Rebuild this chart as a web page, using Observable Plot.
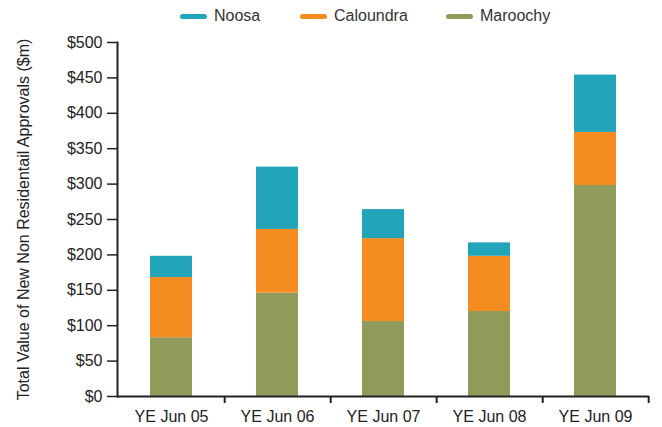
<!DOCTYPE html>
<html>
<head>
<meta charset="utf-8">
<script src="https://cdn.jsdelivr.net/npm/d3@7"></script>
<script src="https://cdn.jsdelivr.net/npm/@observablehq/plot@0.6"></script>
<style>
  html, body { margin: 0; padding: 0; background: #fff; }
  body { width: 662px; height: 427px; overflow: hidden; font-family: "Liberation Sans", Arial, sans-serif; }
  #legend { position: relative; height: 34px; }
  .item { position: absolute; top: 7px; display: flex; align-items: center; font-size: 16px; color: #333; }
  .sw { display: inline-block; width: 27px; height: 5px; border-radius: 3px; margin-right: 7px; }
</style>
</head>
<body>
<div id="legend"></div>
<div id="chart"></div>
<script>
const categories = ["YE Jun 05", "YE Jun 06", "YE Jun 07", "YE Jun 08", "YE Jun 09"];
const series = ["Maroochy", "Caloundra", "Noosa"];
const maroochy = [83, 146, 106, 120, 298];
const caloundra = [85, 90, 117, 78, 75];
const noosa = [30, 88, 41, 19, 81];
const colors = ["#8F9A5B", "#F58C1F", "#22A5B9"];
const legendOrder = ["Noosa", "Caloundra", "Maroochy"];
const legendLeft = [180, 300, 446];
const yTicks = [0, 50, 100, 150, 200, 250, 300, 350, 400, 450, 500];

const valuesBySeries = [maroochy, caloundra, noosa];
const data = [];
categories.forEach((c, i) => {
  series.forEach((s, j) => data.push({category: c, series: s, value: valuesBySeries[j][i]}));
});

// legend
const legend = document.getElementById("legend");
legendOrder.forEach((s, k) => {
  const item = document.createElement("div");
  item.className = "item";
  item.style.left = legendLeft[k] + "px";
  const sw = document.createElement("span");
  sw.className = "sw";
  sw.style.background = colors[series.indexOf(s)];
  item.appendChild(sw);
  item.appendChild(document.createTextNode(s));
  legend.appendChild(item);
});

const width = 662, height = 393;
const marginLeft = 117, marginRight = 13, marginTop = 8, marginBottom = 31;
const bandHalf = (width - marginLeft - marginRight) / categories.length / 2;

const chart = Plot.plot({
  width, height, marginLeft, marginRight, marginTop, marginBottom,
  style: {fontFamily: "Liberation Sans, Arial, sans-serif", fontSize: "16px", color: "#222", background: "#fff"},
  x: {domain: categories, paddingInner: 0.6, paddingOuter: 0.3, align: 0.5},
  y: {domain: [0, 500]},
  color: {domain: series, range: colors},
  marks: [
    Plot.barY(data, {x: "category", y: "value", fill: "series", order: series}),
    Plot.ruleY([0], {stroke: "#222", strokeWidth: 2}),
    Plot.frame({anchor: "left", stroke: "#222", strokeWidth: 2}),
    Plot.axisY({ticks: yTicks, tickFormat: d => "$" + d, tickSize: 10, tickPadding: 5,
      stroke: "#222", strokeWidth: 1.5,
      label: "Total Value of New Non Residentail Approvals ($m)", labelAnchor: "center", labelOffset: 100, labelArrow: "none"}),
    Plot.axisX({tickSize: 0, tickPadding: 14, label: null}),
    Plot.axisX({tickSize: 7, tickFormat: () => "", dx: bandHalf, stroke: "#222", strokeWidth: 2, label: null})
  ]
});
document.getElementById("chart").appendChild(chart);
</script>
</body>
</html>
